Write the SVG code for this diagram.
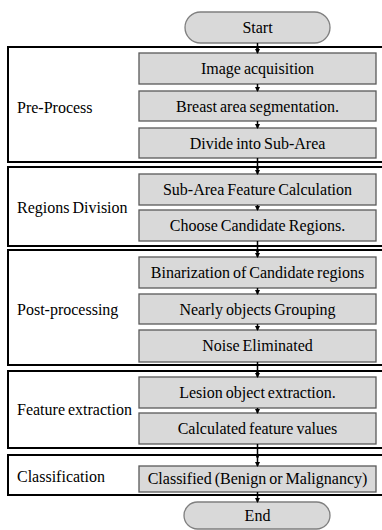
<svg xmlns="http://www.w3.org/2000/svg" width="382" height="530" viewBox="0 0 382 530">
<style>
.grp{fill:none;stroke:#000;stroke-width:2}
.box{fill:#d9d9d9;stroke:#595959;stroke-width:1.3}
.term{fill:#d9d9d9;stroke:#7f7f7f;stroke-width:1.3}
text{font-family:'Liberation Serif','Times New Roman','DejaVu Serif',serif;font-size:16px;fill:#000;word-spacing:-1px}
.c{text-anchor:middle}
.con{stroke:#000;stroke-width:1.5;fill:none;marker-end:url(#ah)}
</style>
<defs>
<marker id="ah" markerWidth="5" markerHeight="5" refX="4" refY="2.5" orient="auto" markerUnits="userSpaceOnUse">
<path d="M0,0 L5,2.5 L0,5 Z" fill="#000"/>
</marker>
</defs>
<rect width="382" height="530" fill="#fff"/>
<g id="g-preprocess"><rect class="grp" x="8" y="47" width="380" height="115"/><text x="17" y="113">Pre-Process</text></g>
<g id="g-regions"><rect class="grp" x="8" y="167" width="380" height="79"/><text x="17" y="213">Regions Division</text></g>
<g id="g-post"><rect class="grp" x="8" y="250" width="380" height="115"/><text x="17" y="315">Post-processing</text></g>
<g id="g-feature"><rect class="grp" x="8" y="371" width="380" height="77"/><text x="17" y="415">Feature extraction</text></g>
<g id="g-class"><rect class="grp" x="8" y="455" width="380" height="40"/><text x="17" y="482">Classification</text></g>
<g id="start"><rect class="term" x="185" y="12" width="145" height="31" rx="15.5"/><text class="c" x="257.5" y="33">Start</text></g>
<g id="n1"><rect class="box" x="139" y="53" width="237" height="31"/><text class="c" x="257.5" y="74">Image acquisition</text></g>
<g id="n2"><rect class="box" x="139" y="91" width="237" height="30"/><text class="c" x="257.5" y="112">Breast area segmentation.</text></g>
<g id="n3"><rect class="box" x="139" y="128" width="237" height="30"/><text class="c" x="257.5" y="149">Divide into Sub-Area</text></g>
<g id="n4"><rect class="box" x="139" y="174" width="237" height="31"/><text class="c" x="257.5" y="195">Sub-Area Feature Calculation</text></g>
<g id="n5"><rect class="box" x="139" y="210" width="237" height="31"/><text class="c" x="257.5" y="231">Choose Candidate Regions.</text></g>
<g id="n6"><rect class="box" x="139" y="257" width="237" height="31"/><text class="c" x="257.5" y="278">Binarization of Candidate regions</text></g>
<g id="n7"><rect class="box" x="139" y="294" width="237" height="30"/><text class="c" x="257.5" y="315">Nearly objects Grouping</text></g>
<g id="n8"><rect class="box" x="139" y="330" width="237" height="32"/><text class="c" x="257.5" y="351">Noise Eliminated</text></g>
<g id="n9"><rect class="box" x="139" y="377" width="237" height="31"/><text class="c" x="257.5" y="398">Lesion object extraction.</text></g>
<g id="n10"><rect class="box" x="139" y="413" width="237" height="31"/><text class="c" x="257.5" y="434">Calculated feature values</text></g>
<g id="n11"><rect class="box" x="139" y="466" width="237" height="26"/><text class="c" x="257.5" y="484">Classified (Benign or Malignancy)</text></g>
<g id="end"><rect class="term" x="184" y="502" width="146" height="27" rx="13.5"/><text class="c" x="257.5" y="521">End</text></g>
<g id="connectors">
<path class="con" d="M257.5,43 V50"/><path class="con" d="M257.5,48 V53"/>
<path class="con" d="M257.5,84 V91"/>
<path class="con" d="M257.5,121 V128"/>
<path class="con" d="M257.5,158 V170"/><path class="con" d="M257.5,168 V174"/>
<path class="con" d="M257.5,205 V210"/>
<path class="con" d="M257.5,241 V253"/><path class="con" d="M257.5,251 V257"/>
<path class="con" d="M257.5,288 V294"/>
<path class="con" d="M257.5,324 V330"/>
<path class="con" d="M257.5,362 V374"/><path class="con" d="M257.5,372 V377"/>
<path class="con" d="M257.5,408 V413"/>
<path class="con" d="M257.5,444 V458"/><path class="con" d="M257.5,456 V466"/>
<path class="con" d="M257.5,492 V502"/>
</g>
</svg>
